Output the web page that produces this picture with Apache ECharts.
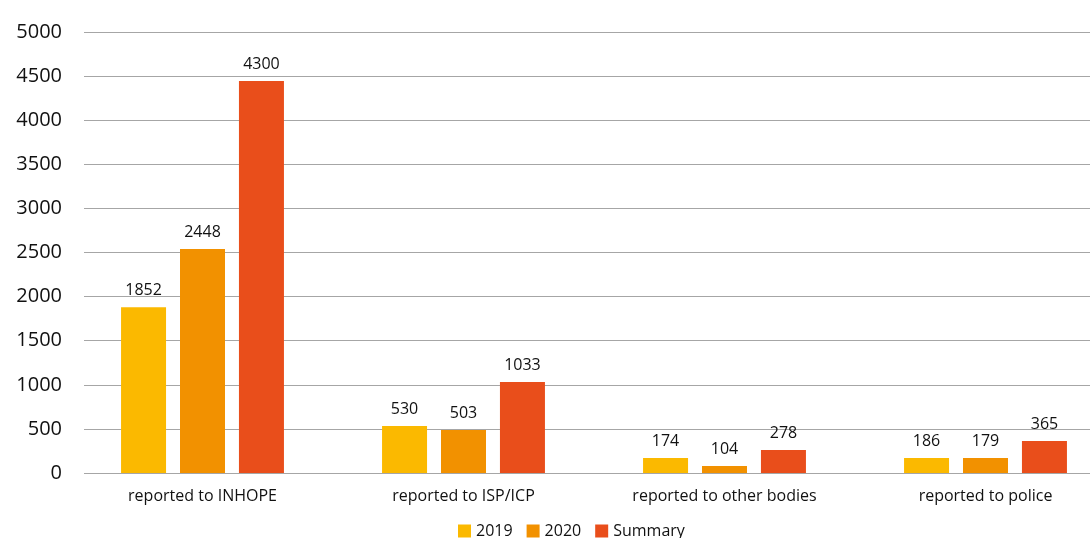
<!DOCTYPE html>
<html>
<head>
<meta charset="utf-8">
<script src="https://cdn.jsdelivr.net/npm/echarts@6/dist/echarts.min.js"></script>
<style>
  html, body { margin: 0; padding: 0; background: #fff; }
  #chart { width: 1090px; height: 538px; }
</style>
</head>
<body>
<div id="chart"></div>
<script>
// categories and series
const categories = ["reported to INHOPE", "reported to ISP/ICP", "reported to other bodies", "reported to police"];
const seriesNames = ["2019", "2020", "Summary"];
// bar heights as drawn in the picture
const bars2019 = [1880, 533, 170, 170];
const bars2020 = [2540, 487, 79, 170];
const barsSummary = [4444, 1032, 261, 363];
// numbers printed above the bars
const labels2019 = [1852, 530, 174, 186];
const labels2020 = [2448, 503, 104, 179];
const labelsSummary = [4300, 1033, 278, 365];
const yTicks = [0, 500, 1000, 1500, 2000, 2500, 3000, 3500, 4000, 4500, 5000];

const colors = ["#FBB900", "#F29100", "#E94E1B"];
const font = "'Open Sans', sans-serif";

function makeSeries(name, values, labels, color) {
  return {
    name: name,
    type: "bar",
    xAxisIndex: 0,
    yAxisIndex: 0,
    barWidth: 45,
    barGap: "31%",
    itemStyle: { color: color },
    label: {
      show: true,
      position: "top",
      distance: 9,
      color: "#111",
      fontSize: 16,
      fontWeight: 500,
      fontFamily: font,
      formatter: p => String(labels[p.dataIndex])
    },
    data: values
  };
}

const chart = echarts.init(document.getElementById("chart"));
chart.setOption({
  animation: false,
  color: colors,
  legend: {
    data: seriesNames,
    bottom: -6,
    left: 453,
    itemWidth: 13,
    itemHeight: 13,
    itemGap: 14,
    icon: "rect",
    textStyle: { fontSize: 16, fontWeight: 500, color: "#111", fontFamily: font }
  },
  grid: [
    { left: 72, width: 1044, top: 32, bottom: 65, outerBoundsMode: "none" },
    { left: 84, right: 0, top: 32, bottom: 65, outerBoundsMode: "none" }
  ],
  xAxis: [
    {
      gridIndex: 0,
      type: "category",
      data: categories,
      axisLine: { show: false },
      axisTick: { show: false },
      axisLabel: { fontSize: 16, fontWeight: 500, color: "#111", fontFamily: font, margin: 15 }
    },
    { gridIndex: 1, type: "category", show: false, data: categories }
  ],
  yAxis: [
    { gridIndex: 0, type: "value", min: 0, max: 5000, interval: 500, show: false },
    {
      gridIndex: 1,
      type: "value",
      min: yTicks[0],
      max: yTicks[yTicks.length - 1],
      interval: 500,
      axisLine: { show: false },
      axisTick: { show: false },
      axisLabel: {
        fontSize: 20,
        fontWeight: 500,
        color: "#111",
        fontFamily: font,
        margin: 22,
        formatter: v => String(v)
      },
      splitLine: { lineStyle: { color: "#a6a6a6", width: 1 } }
    }
  ],
  series: [
    makeSeries(seriesNames[0], bars2019, labels2019, colors[0]),
    makeSeries(seriesNames[1], bars2020, labels2020, colors[1]),
    makeSeries(seriesNames[2], barsSummary, labelsSummary, colors[2])
  ]
});
</script>
</body>
</html>
